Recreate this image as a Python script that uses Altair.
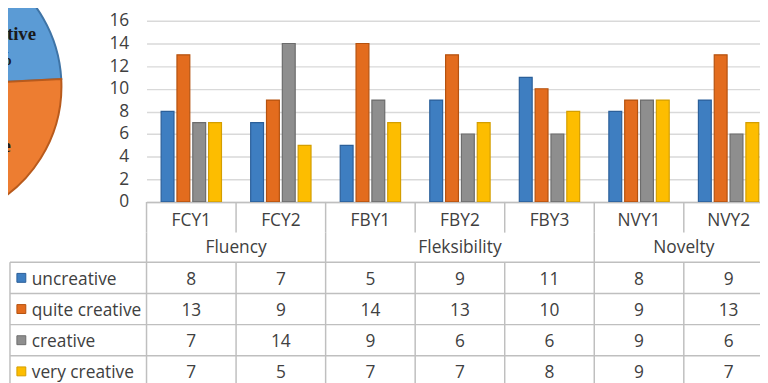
import math
import altair as alt
import pandas as pd

# ---------------- data ----------------
categories = ["FCY1", "FCY2", "FBY1", "FBY2", "FBY3", "NVY1", "NVY2"]
groups = ["Fluency", "Fleksibility", "Novelty"]
group_sizes = [2, 3, 2]
series = ["uncreative", "quite creative", "creative", "very creative"]
uncreative = [8, 7, 5, 9, 11, 8, 9]
quite_creative = [13, 9, 14, 13, 10, 9, 13]
creative = [7, 14, 9, 6, 6, 9, 6]
very_creative = [7, 5, 7, 7, 8, 9, 7]
y_ticks = [0, 2, 4, 6, 8, 10, 12, 14, 16]

pie_names = ["uncreative", "quite creative", "creative", "very creative"]
pie_values = [15, 39, 26, 20]

# ---------------- styles ----------------
bar_fill = ["#3E7EC1", "#E36C1E", "#8E8E8E", "#FDBD00"]
bar_edge = ["#2B5F99", "#B5520F", "#6C6C6C", "#D49E00"]
pie_fill = ["#5B9BD5", "#ED7D31", "#A5A5A5", "#FFC000"]
pie_edge = ["#3F74A6", "#B85A1C", "#7F7F7F", "#C99700"]
TXT = "#404040"
LINE = "#BFBFBF"
FONT = "Open Sans"
FS = 17.5

# ---------------- layout (pixels, relative to plot origin) ----------------
W, H = 620, 183
BAND = 90.5
TICK_END = 214
TABLE_TOP = 244
ROW_H = 31.5
TABLE_BOTTOM = TABLE_TOP + ROW_H * len(series)
LEFT = -138
PIE_X, PIE_Y, PIE_R = -223, 66, 137
PIE_START = math.radians(33)
PIE_LABEL_R = 79.5

# ---------------- frames ----------------
vals = [uncreative, quite_creative, creative, very_creative]
long = pd.DataFrame(
    [{"category": c, "series": s, "value": v[i]}
     for s, v in zip(series, vals) for i, c in enumerate(categories)]
)

starts = []
k = 0
for n in group_sizes:
    starts.append(k)
    k += n
cats = pd.DataFrame({
    "category": categories,
    "gstart": [i in starts for i in range(len(categories))],
})
grp = pd.DataFrame({
    "group": groups,
    "mid": [categories[s + n // 2] for s, n in zip(starts, group_sizes)],
    "even": [n % 2 == 0 for n in group_sizes],
})
rows = pd.DataFrame({"series": series})
pie = pd.DataFrame({
    "pname": pie_names,
    "pv": pie_values,
    "idx": list(range(len(pie_names))),
    "pct": [f"{v}%" for v in pie_values],
})
one = pd.DataFrame({"a": [0]})

XSCALE = alt.Scale(domain=categories, range=[0, BAND * len(categories)],
                   paddingInner=0, paddingOuter=0)
XAXIS = alt.Axis(title=None, labelAngle=0, labelFontSize=FS, labelColor=TXT,
                 labelFont=FONT, ticks=False, domain=True, domainColor=LINE,
                 domainWidth=1.5, labelPadding=10, grid=False)


def xenc(field="category", band=0.5):
    return alt.X(f"{field}:N", scale=XSCALE, axis=XAXIS, bandPosition=band)


ROWSCALE = alt.Scale(type="band", domain=series, range=[TABLE_TOP, TABLE_BOTTOM],
                     paddingInner=0, paddingOuter=0)


def yrow(band=0.5):
    return alt.Y("series:N", scale=ROWSCALE, axis=None, bandPosition=band)


THETA_SCALE = alt.Scale(range=[PIE_START, PIE_START + 2 * math.pi])

bars = alt.Chart(long).mark_bar(strokeWidth=1.2, clip=True).encode(
    x=xenc(),
    xOffset=alt.XOffset("series:N", sort=series,
                        scale=alt.Scale(domain=series, paddingInner=0.1875,
                                        paddingOuter=0.922)),
    y=alt.Y("value:Q", scale=alt.Scale(domain=[0, 16]),
            axis=alt.Axis(values=y_ticks, title=None, grid=True,
                          gridColor="#D9D9D9", gridWidth=1.5, ticks=False,
                          domain=False, labelPadding=18, labelFontSize=FS,
                          labelColor=TXT, labelFont=FONT)),
    fill=alt.Fill("series:N", scale=alt.Scale(domain=series, range=bar_fill),
                  legend=None),
    stroke=alt.Stroke("series:N", scale=alt.Scale(domain=series, range=bar_edge),
                      legend=None),
)

tick_top = alt.Chart(cats).mark_rule(color=LINE, strokeWidth=1.5).encode(
    x=xenc(band=0), y=alt.value(H), y2=alt.value(TICK_END))
tick_mid = alt.Chart(cats).transform_filter("datum.gstart").mark_rule(
    color=LINE, strokeWidth=1.5).encode(
    x=xenc(band=0), y=alt.value(TICK_END), y2=alt.value(TABLE_TOP))
tick_tab = alt.Chart(cats).mark_rule(color=LINE, strokeWidth=1.5).encode(
    x=xenc(band=0), y=alt.value(TABLE_TOP), y2=alt.value(TABLE_BOTTOM))

glab_even = alt.Chart(grp).transform_filter("datum.even").mark_text(
    font=FONT, fontSize=FS, color=TXT, baseline="middle").encode(
    x=xenc("mid", band=0), y=alt.value(230), text="group:N")
glab_odd = alt.Chart(grp).transform_filter("!datum.even").mark_text(
    font=FONT, fontSize=FS, color=TXT, baseline="middle").encode(
    x=xenc("mid", band=0.5), y=alt.value(230), text="group:N")

row_lines = alt.Chart(rows).mark_rule(color=LINE, strokeWidth=1.5).encode(
    y=yrow(band=0), x=alt.value(LEFT), x2=alt.value(W))
left_border = alt.Chart(one).mark_rule(color=LINE, strokeWidth=1.5).encode(
    x=alt.value(LEFT), y=alt.value(TABLE_TOP), y2=alt.value(TABLE_BOTTOM))

cells = alt.Chart(long).mark_text(font=FONT, fontSize=FS, color=TXT,
                                  baseline="middle", dy=2).encode(
    x=xenc(), y=yrow(), text="value:Q")

leg_sq = alt.Chart(rows).mark_square(size=81, strokeWidth=1, opacity=1).encode(
    x=alt.value(LEFT + 11.5), y=yrow(),
    fill=alt.Fill("series:N", scale=alt.Scale(domain=series, range=bar_fill),
                  legend=None),
    stroke=alt.Stroke("series:N", scale=alt.Scale(domain=series, range=bar_edge),
                      legend=None),
)
leg_txt = alt.Chart(rows).mark_text(font=FONT, fontSize=FS, color=TXT,
                                    align="left", baseline="middle", dy=2).encode(
    x=alt.value(LEFT + 22), y=yrow(), text="series:N")

pie_arcs = alt.Chart(pie).mark_arc(radius=PIE_R, strokeWidth=2).encode(
    theta=alt.Theta("pv:Q", stack=True, scale=THETA_SCALE),
    order=alt.Order("idx:Q"),
    color=alt.Color("pname:N", scale=alt.Scale(domain=pie_names, range=pie_fill),
                    legend=None),
    stroke=alt.Stroke("pname:N", scale=alt.Scale(domain=pie_names, range=pie_edge),
                      legend=None),
    x=alt.value(PIE_X), y=alt.value(PIE_Y),
)
pie_name = alt.Chart(pie).mark_text(radius=PIE_LABEL_R, font="Liberation Serif",
                                    fontWeight="bold", fontSize=19,
                                    color="#1A1A1A", baseline="middle",
                                    dy=-12.5).encode(
    theta=alt.Theta("pv:Q", stack=True, scale=THETA_SCALE),
    order=alt.Order("idx:Q"),
    text="pname:N",
    x=alt.value(PIE_X), y=alt.value(PIE_Y),
)
pie_pct = alt.Chart(pie).mark_text(radius=PIE_LABEL_R, font="Liberation Serif",
                                   fontWeight="bold", fontSize=19,
                                   color="#1A1A1A", baseline="middle",
                                   dy=12.5).encode(
    theta=alt.Theta("pv:Q", stack=True, scale=THETA_SCALE),
    order=alt.Order("idx:Q"),
    text="pct:N",
    x=alt.value(PIE_X), y=alt.value(PIE_Y),
)

chart = alt.layer(
    pie_arcs, pie_name, pie_pct, bars, tick_top, tick_mid, tick_tab,
    glab_even, glab_odd, row_lines, left_border, cells, leg_sq, leg_txt,
).resolve_scale(
    y="independent", fill="independent", stroke="independent",
    color="independent",
).properties(
    width=W, height=H,
    autosize=alt.AutoSizeParams(type="none"),
    padding={"left": 140, "top": 11, "right": 0, "bottom": 181},
).configure_view(stroke=None)

chart.save("out.html", embed_options={"renderer": "svg", "actions": False})
